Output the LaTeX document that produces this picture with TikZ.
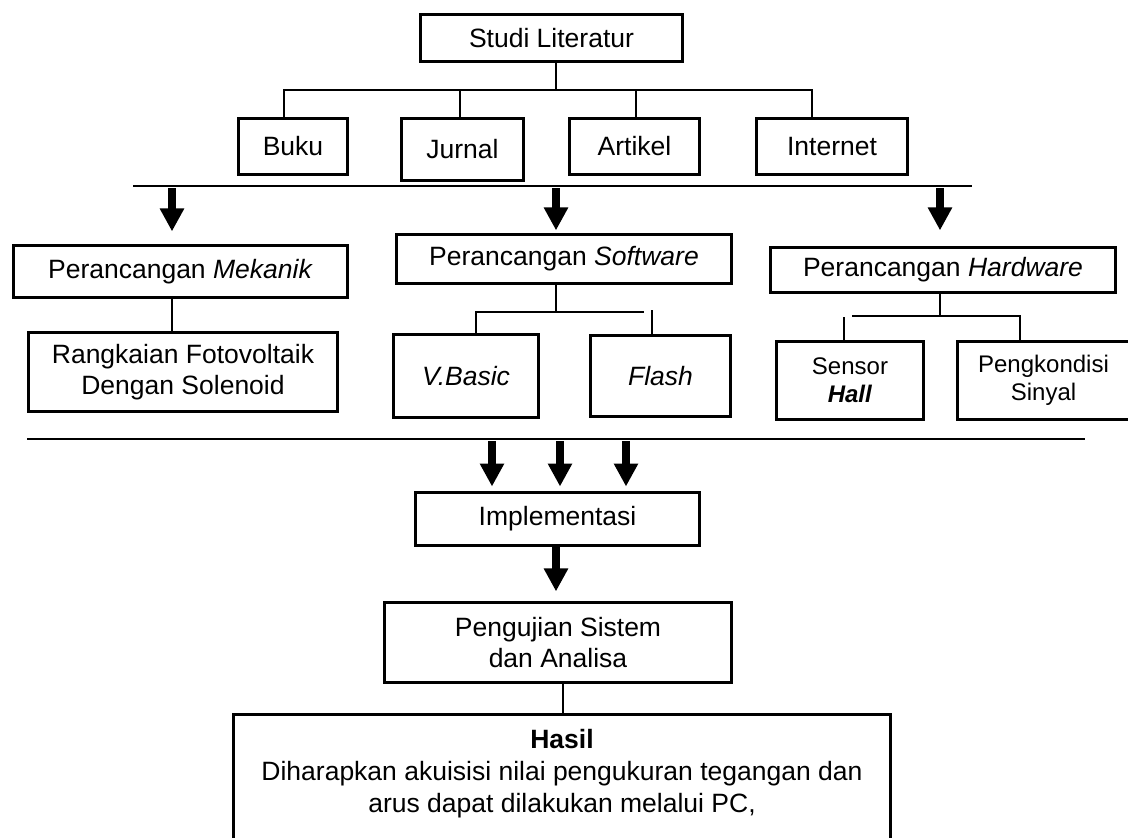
\documentclass[tikz,border=0pt]{standalone}
\usepackage{fontspec}
\setmainfont{Liberation Sans}
\usetikzlibrary{arrows.meta,positioning}

\begin{document}
\begin{tikzpicture}[x=1pt,y=-1pt,
  kotak/.style={draw, line width=3.2pt, inner sep=0pt, align=center,
    font=\fontsize{26.5}{31}\selectfont},
  kecil/.style={font=\fontsize{24}{28}\selectfont},
  garis/.style={line width=2pt},
  pemisah/.style={line width=1.5pt},
  panah/.style={line width=8pt, -{Triangle[width=23pt,length=23pt]}}
]
  \useasboundingbox (0,0) rectangle (1128,838);

  % Studi literatur dan sumber-sumbernya
  \node[kotak, minimum width=261.8pt, minimum height=46.8pt] (studi) at (551.5,38) {Studi Literatur};
  \coordinate (cabang) at (556,90);
  \draw[garis] ([xshift=4.5pt]studi.south) -- (cabang);

  \foreach \nama/\teks/\x/\y/\w/\h/\dx in {
    buku/Buku/293/146.5/108.8/55.8/-9,
    jurnal/Jurnal/462.5/149.5/121.8/61.8/-2.5,
    artikel/Artikel/634.5/146.5/129.8/55.8/1.5,
    internet/Internet/832/146.5/150.8/55.8/-20
  }{
    \node[kotak, minimum width=\w pt, minimum height=\h pt] (\nama) at (\x,\y) {\teks};
    \draw[garis] ([xshift=\dx pt]\nama.north) |- (cabang);
  }

  % Garis pemisah pertama dan tiga panah perancangan
  \draw[pemisah] (133,186) -- (972,186);
  \coordinate (pm) at (172,188);
  \coordinate (ps) at (556,188);
  \coordinate (ph) at (940,188);

  % Perancangan
  \node[kotak, minimum width=333.8pt, minimum height=51.8pt] (mekanik) at (180.5,271.5) {Perancangan \textit{Mekanik}};
  \node[kotak, minimum width=334.8pt, minimum height=48.8pt] (software) at (564,259) {Perancangan \textit{Software}};
  \node[kotak, minimum width=344.8pt, minimum height=44.8pt] (hardware) at (943,270) {Perancangan \textit{Hardware}};

  \draw[panah, shorten >=12.6pt] (pm) -- (pm |- mekanik.north);
  \draw[panah, shorten >=2.6pt] (ps) -- (ps |- software.north);
  \draw[panah, shorten >=15.6pt] (ph) -- (ph |- hardware.north);

  % Cabang mekanik
  \node[kotak, minimum width=308.8pt, minimum height=78.8pt] (rangkaian) at (183,372) {Rangkaian Fotovoltaik\\Dengan Solenoid};
  \draw[garis] ([xshift=-8.5pt]mekanik.south) coordinate (u) -- (u |- rangkaian.north);

  % Cabang software
  \node[kotak, minimum width=144.8pt, minimum height=82.8pt] (vbasic) at (466,376) {\textit{V.Basic}};
  \node[kotak, minimum width=139.8pt, minimum height=80.8pt] (flash) at (660.5,376) {\textit{Flash}};
  \coordinate (cabangS) at (556,312);
  \coordinate (ujungS) at (644,312);
  \draw[garis] ([xshift=-8pt]software.south) -- (cabangS);
  \draw[garis] ([xshift=10pt]vbasic.north) |- (ujungS);
  \draw[garis] ([xshift=-8.5pt]flash.north) -- ++(0,-24);

  % Cabang hardware
  \node[kotak, kecil, minimum width=146.8pt, minimum height=77.8pt] (sensor) at (850,380.5) {Sensor\\\textbf{\textit{Hall}}};
  \node[kotak, kecil, minimum width=171.8pt, minimum height=77.8pt] (pengkondisi) at (1043.5,380.5) {Pengkondisi\\Sinyal};
  \coordinate (cabangH) at (940,316);
  \coordinate (kiriH) at (852,316);
  \draw[garis] ([xshift=-3pt]hardware.south) -- (cabangH);
  \draw[garis] ([xshift=-23.5pt]pengkondisi.north) |- (kiriH);
  \draw[garis] ([xshift=-6pt]sensor.north) -- ++(0,-23);

  % Garis pemisah kedua dan implementasi
  \draw[pemisah] (27,439) -- (1085,439);
  \node[kotak, minimum width=283.8pt, minimum height=52.8pt] (implementasi) at (557.5,519) {Implementasi};
  \foreach \x [count=\i] in {492,560,626}{
    \coordinate (q\i) at (\x,441);
    \draw[panah, shorten >=4.5pt] (q\i) -- (q\i |- implementasi.north);
  }

  % Pengujian dan hasil
  \node[kotak, minimum width=346.8pt, minimum height=79.8pt] (pengujian) at (558,642.5) {Pengujian Sistem\\dan Analisa};
  \draw[panah, shorten >=9.6pt] ([xshift=-1.5pt]implementasi.south) coordinate (v) -- (v |- pengujian.north);

  \node[kotak, anchor=north, minimum width=656.8pt, minimum height=160pt] (hasil) at (562,712.6) {};
  \node[anchor=north, align=center, inner sep=0pt, font=\fontsize{26.5}{32}\selectfont] (hasilteks) at ([yshift=-16.5pt]hasil.north)
    {\textbf{Hasil}\\Diharapkan akuisisi nilai pengukuran tegangan dan\\arus dapat dilakukan melalui PC,};
  \draw[garis] ([xshift=5pt]pengujian.south) coordinate (w) -- (w |- hasil.north);

\end{tikzpicture}
\end{document}
